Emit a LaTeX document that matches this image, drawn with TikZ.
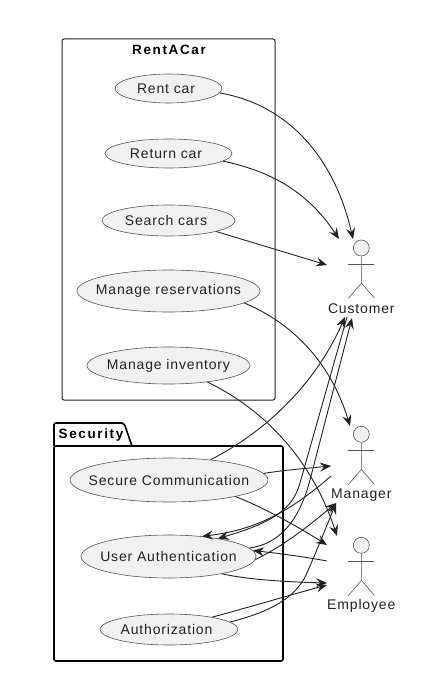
\documentclass[tikz,border=0pt]{standalone}
\usepackage{fontspec}
\setmainfont[LetterSpace=6]{Liberation Sans}
\newfontfamily\titlefont[LetterSpace=12]{Liberation Sans}
\usetikzlibrary{arrows.meta, shapes.geometric}
\definecolor{ucfill}{HTML}{F1F1F1}
\definecolor{ucline}{HTML}{555555}
\definecolor{lineink}{HTML}{222222}
\newcommand{\uctext}[1]{\makebox[0pt]{#1}}
\newcommand{\ucleft}[1]{\makebox[0pt]{\hspace*{-5pt}#1}}
\tikzstyle{usecase}=[draw=ucline, fill=ucfill, ellipse, line width=0.6pt, inner sep=0pt, text=lineink, font=\fontsize{14}{16}\selectfont]
\tikzstyle{head}=[draw=ucline, fill=ucfill, circle, line width=0.6pt, inner sep=0pt, minimum size=16pt]
\tikzstyle{actorname}=[text=lineink, inner sep=0pt, font=\fontsize{14}{16}\selectfont]
\tikzstyle{limb}=[draw=ucline, line width=0.6pt]
\tikzstyle{title}=[text=black, inner sep=0pt, font=\titlefont\bfseries\fontsize{13.5}{16}\selectfont]
\tikzstyle{rentbox}=[draw=lineink, line width=1pt, rounded corners=2pt, inner sep=0pt]
\tikzstyle{packbox}=[draw=black, line width=1.6pt, rounded corners=2pt, inner sep=0pt]
\tikzstyle{link}=[->, draw=lineink, line width=0.9pt]

\begin{document}
\begin{tikzpicture}[x=1pt,y=-1pt,>={Stealth[length=11pt,width=9pt,inset=4pt]}]
      \useasboundingbox (0,0) rectangle (428,684);

      \node [rentbox, minimum width=213pt, minimum height=361pt] (rentacar) at (168.5,219.5) {};
      \node [title] (renttitle) at (169,50) {RentACar};
      \draw [packbox] (54,446) -- (54,426) [rounded corners=2pt] -- (54,423) -- (124,423) -- (132,446);
      \node [packbox, minimum width=229pt, minimum height=215pt] (security) at (168.5,553.5) {};
      \node [title] (sectitle) at (91,435) {Security};

      \node [usecase, minimum width=107pt, minimum height=29pt] (rent) at (168.5,88.5) {\ucleft{Rent car}};
      \node [usecase, minimum width=127pt, minimum height=29pt] (return) at (168.5,153.5) {\ucleft{Return car}};
      \node [usecase, minimum width=133pt, minimum height=31pt] (search) at (168.5,220.5) {\ucleft{Search cars}};
      \node [usecase, minimum width=183pt, minimum height=42pt] (reserve) at (168.5,291) {\uctext{Manage reservations}};
      \node [usecase, minimum width=163pt, minimum height=37pt] (inventory) at (168.5,365.5) {\uctext{Manage inventory}};
      \node [usecase, minimum width=198pt, minimum height=44pt] (secure) at (169,480) {\uctext{Secure Communication}};
      \node [usecase, minimum width=175pt, minimum height=43pt] (userauth) at (168.5,556.5) {\uctext{User Authentication}};
      \node [usecase, minimum width=138pt, minimum height=31pt] (authz) at (169,629.5) {\ucleft{Authorization}};

      \foreach \nm/\ypos/\txt in {customer/248/Customer, manager/434.3/Manager, employee/545.3/Employee} {
        \node [head] (\nm) at (361.3,\ypos) {};
        \node [actorname] (\nm name) at (361.3,\ypos+61) {\txt};
        \draw [limb] (\nm.south) -- ++(0,27) -- ++(-13,15);
        \draw [limb] ([yshift=-35pt]\nm.center) -- ++(13,15);
        \draw [limb] ([xshift=-13pt,yshift=-16pt]\nm.center) -- ++(26,0);
      }

      \coordinate (custa) at (353,239);
      \coordinate (custb) at (339,239);
      \coordinate (custc) at (327,265);
      \coordinate (custd) at (345,317);
      \coordinate (custe) at (347,317);
      \coordinate (custf) at (352,318);
      \coordinate (mgra) at (350,426);
      \coordinate (mgrb) at (331,466);
      \coordinate (mgrc) at (331,476);
      \coordinate (mgrd) at (336,503);
      \coordinate (empa) at (337,536);
      \coordinate (empb) at (327,545);
      \coordinate (empc) at (327,561);
      \coordinate (empd) at (327,583);
      \coordinate (empe) at (327,585);

      \draw [link] (rent.-5) .. controls (290,105) and (335,160) .. (custa);
      \draw [link] (return.-8) .. controls (275,172) and (310,195) .. (custb);
      \draw [link] (search.-13) -- (custc);
      \draw [link] (reserve.-9) .. controls (290,322) and (330,360) .. (mgra);
      \draw [link] (inventory.-23) .. controls (265,410) and (312,460) .. (empa);

      \draw [link] (secure.26) .. controls (265,432) and (315,385) .. (custd);
      \draw [link] (secure.4) .. controls (285,470) and (310,468) .. (mgrb);
      \draw [link] (secure.-14) .. controls (265,508) and (300,528) .. (empb);

      \draw [link] (custe) -- (300,483) .. controls (293,508) and (275,522) .. (userauth.20);
      \draw [link] (mgrc) .. controls (290,512) and (255,530) .. (userauth.31);
      \draw [link] (empc) .. controls (300,556) and (275,553) .. (userauth.4);
      \draw [link] (userauth.6) .. controls (280,544) and (299.5,520) .. (310,480) -- (custf);
      \draw [link] (userauth.-2) .. controls (285,545) and (310,525) .. (mgrd);
      \draw [link] (userauth.-18) .. controls (250,580) and (290,582) .. (empd);

      \draw [link] (authz.7) .. controls (270,612) and (295,598) .. (306,575) .. controls (315,555) and (325,530) .. (mgrd);
      \draw [link] (authz.16) .. controls (250,607) and (290,595) .. (empe);
\end{tikzpicture}
\end{document}
